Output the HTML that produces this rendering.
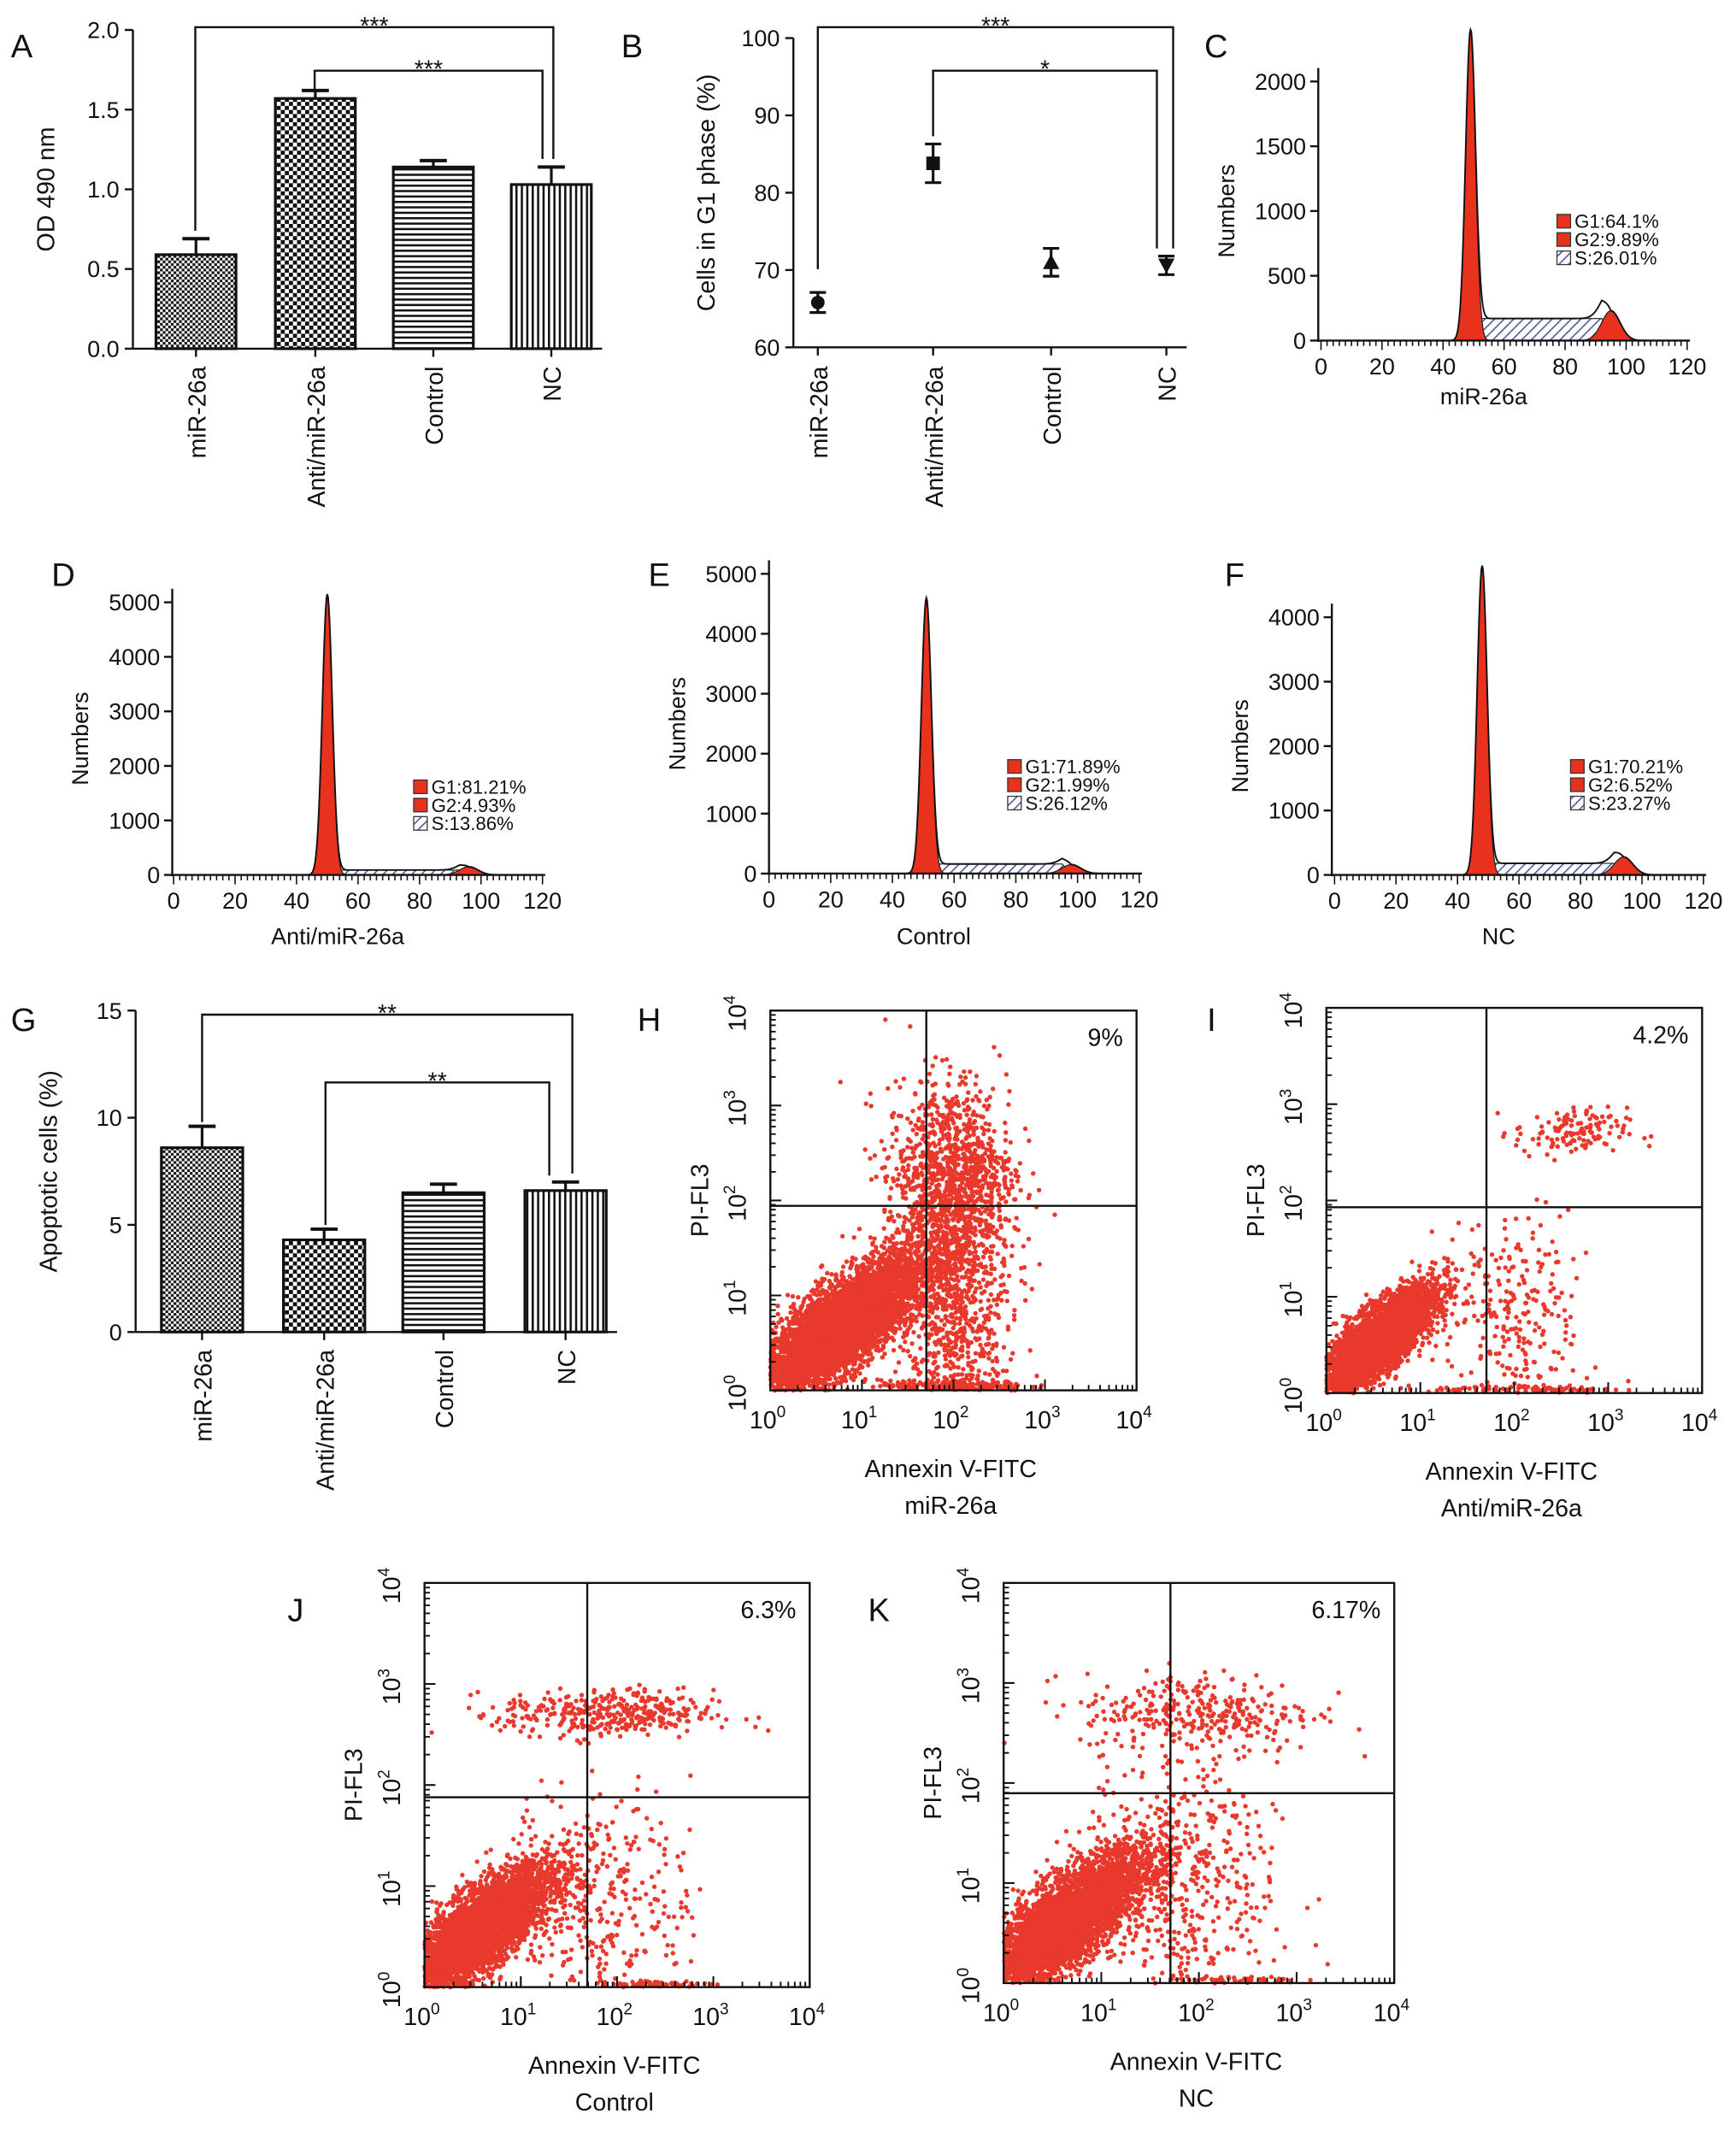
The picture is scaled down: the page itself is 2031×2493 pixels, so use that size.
<!DOCTYPE html>
<html><head><meta charset="utf-8"><style>
html,body{margin:0;padding:0;background:#fff}
svg{display:block;font-family:"Liberation Sans",sans-serif}
</style></head><body>
<svg id="fig" width="2031" height="2493" viewBox="0 0 1280 1571" xmlns="http://www.w3.org/2000/svg">
<defs>
<pattern id="chk" width="6" height="6" patternUnits="userSpaceOnUse"><rect width="6" height="6" fill="#fff"/><rect width="3" height="3" fill="#111"/><rect x="3" y="3" width="3" height="3" fill="#111"/></pattern>
<pattern id="chk2" width="4" height="4" patternUnits="userSpaceOnUse"><rect width="4" height="4" fill="#fff"/><rect width="2" height="2" fill="#111"/><rect x="2" y="2" width="2" height="2" fill="#111"/></pattern>
<pattern id="hz" width="4" height="4" patternUnits="userSpaceOnUse"><rect width="4" height="4" fill="#fff"/><rect width="4" height="1.6" fill="#111"/></pattern>
<pattern id="vt" width="4" height="4" patternUnits="userSpaceOnUse"><rect width="4" height="4" fill="#fff"/><rect width="1.6" height="4" fill="#111"/></pattern>
<pattern id="hatch" width="5" height="5" patternUnits="userSpaceOnUse" patternTransform="rotate(45)"><rect width="5" height="5" fill="#fff"/><rect width="1" height="5" fill="#4a5a9a"/></pattern>
</defs>
</svg>
<script>
// ---------- data ----------
const barCats = ["miR-26a","Anti/miR-26a","Control","NC"];
const odValues = [0.59,1.57,1.14,1.03];
const odErrors = [0.10,0.05,0.04,0.11];
const g1Values = [65.8,83.8,71.0,70.6];
const g1Errors = [1.3,2.5,1.8,1.2];
const apoValues = [8.6,4.3,6.5,6.6];
const apoErrors = [1.0,0.5,0.4,0.4];
const histNames = ["miR-26a","Anti/miR-26a","Control","NC"];
const histG1Pos = [49,50,51,48];
const histG1Height = [2400,5150,4600,4800];
const histG2Pos = [95,96,98,94];
const histG2Height = [230,150,150,280];
const histSLevel = [170,90,160,180];
const histLegendG1 = ["G1:64.1%","G1:81.21%","G1:71.89%","G1:70.21%"];
const histLegendG2 = ["G2:9.89%","G2:4.93%","G2:1.99%","G2:6.52%"];
const histLegendS = ["S:26.01%","S:13.86%","S:26.12%","S:23.27%"];
const flowNames = ["miR-26a","Anti/miR-26a","Control","NC"];
const flowPercent = ["9%","4.2%","6.3%","6.17%"];
// clusters: [count, cx(decades), cy, sx, sy, correlation]
const flowClusters = [
 [[5500,0.75,0.65,0.45,0.38,0.78],[1300,2.0,1.3,0.3,0.85,0.0],[700,1.95,2.3,0.35,0.45,0],[200,2.0,0.05,0.4,0.03,0]],
 [[4000,0.55,0.55,0.3,0.27,0.78],[250,2.0,0.8,0.4,0.5,0],[130,2.6,2.7,0.3,0.13,0],[100,2.1,0.04,0.5,0.02,0]],
 [[4500,0.55,0.55,0.38,0.32,0.78],[350,1.8,0.9,0.5,0.5,0],[380,1.9,2.7,0.55,0.12,0],[80,2.4,0.03,0.3,0.02,0]],
 [[4500,0.62,0.6,0.42,0.36,0.78],[500,1.8,1.0,0.5,0.6,0],[330,2.0,2.7,0.6,0.2,0],[60,2.3,0.03,0.4,0.02,0]]
];
// ---------- helpers ----------
const svg=document.getElementById('fig');const NS="http://www.w3.org/2000/svg";
function el(tag,attrs,parent,text){const e=document.createElementNS(NS,tag);for(const k in attrs)e.setAttribute(k,attrs[k]);if(text!==undefined)e.textContent=text;(parent||svg).appendChild(e);return e;}
function grp(name){const g=el('g',{});return g;}
function txt(g,x,y,s,size,anchor,rot,name){const t=el('text',{x:x,y:y,'font-size':size,'text-anchor':anchor||'middle',fill:'#111'},g,s);if(rot)t.setAttribute('transform',`rotate(${rot} ${x} ${y})`);return t;}
function line(g,x1,y1,x2,y2,w){return el('line',{x1,y1,x2,y2,stroke:'#111','stroke-width':w||1.5},g);}
function letter(s,x,y){const t=txt(svg,x,y,s,24,'start',0,'panel-label-'+s.toLowerCase());}
function bracket(g,x1,x2,y,b1,b2,stars){el('polyline',{points:`${x1},${b1} ${x1},${y} ${x2},${y} ${x2},${b2}`,fill:'none',stroke:'#111','stroke-width':1.5},g);const t=txt(g,(x1+x2)/2,y+5,stars,18,'middle',0,'significance-stars');}

// ---------- bar chart ----------
function barChart(name,ax,y0,yTop,vmax,step,title,vals,errs,xs,w,fills,brackets,lblY){
 const g=grp(name);const sy=v=>y0-(v/vmax)*(y0-yTop);
 line(g,ax,yTop,ax,y0);line(g,ax,y0,xs[3]+w+8,y0);
 for(let v=0;v<=vmax+1e-9;v+=step){line(g,ax-6,sy(v),ax,sy(v));txt(g,ax-10,sy(v)+6,(step<1?v.toFixed(1):v),17,'end',0,'y-tick-label');}
 txt(g,ax-58,(y0+yTop)/2,title,18,'middle',-90,'y-axis-title');
 vals.forEach((v,i)=>{const b=el('rect',{x:xs[i],y:sy(v),width:w,height:y0-sy(v),fill:fills[i],stroke:'#111','stroke-width':2},g);
  
  const cx=xs[i]+w/2;line(g,cx,sy(v),cx,sy(v+errs[i]),2);line(g,cx-10,sy(v+errs[i]),cx+10,sy(v+errs[i]),2.5);
  line(g,cx,y0,cx,y0+6);txt(g,cx+7,lblY,barCats[i],18,'end',-90,'x-category-label');});
 brackets.forEach(b=>bracket(g,b[0],b[1],b[2],sy(b[3]),sy(b[4]),b[5]));
}
barChart('od-bar-chart',98,257,22,2.0,0.5,'OD 490 nm',odValues,odErrors,[115,203,290,377],59,['url(#chk2)','url(#chk)','url(#hz)','url(#vt)'],
 [[144,408,20,odValues[0]+odErrors[0]+0.05,odValues[3]+odErrors[3]+0.05,'***'],[232,400,52,odValues[1]+odErrors[1]+0.01,odValues[3]+odErrors[3]+0.05,'***']],270);
letter('A',8,42);
barChart('apoptosis-bar-chart',100,982,745,15,5,'Apoptotic cells (%)',apoValues,apoErrors,[119,209,297,387],60,['url(#chk2)','url(#chk)','url(#hz)','url(#vt)'],
 [[149,422,748,apoValues[0]+apoErrors[0]+0.2,apoValues[3]+apoErrors[3]+0.4,'**'],[240,405,798,apoValues[1]+apoErrors[1]+0.2,apoValues[3]+apoErrors[3]+0.3,'**']],995);
letter('G',8,760);

// ---------- G1 scatter ----------
(function(){const g=grp('g1-phase-chart');const ax=585,y0=256,yT=28;const sy=v=>y0-(v-60)/40*(y0-yT);const xs=[603,688,775,860];
 line(g,ax,yT,ax,y0);line(g,ax,y0,875,y0);
 for(let v=60;v<=100;v+=10){line(g,ax-6,sy(v),ax,sy(v));txt(g,ax-10,sy(v)+6,v,17,'end',0,'y-tick-label');}
 txt(g,ax-58,142,'Cells in G1 phase (%)',18,'middle',-90,'y-axis-title');
 g1Values.forEach((v,i)=>{const x=xs[i],y=sy(v),e=g1Errors[i];line(g,x,sy(v-e),x,sy(v+e),2);line(g,x-6,sy(v+e),x+6,sy(v+e),2);line(g,x-6,sy(v-e),x+6,sy(v-e),2);
  let m;if(i==0)m=el('circle',{cx:x,cy:y,r:5,fill:'#111'},g);else if(i==1)m=el('rect',{x:x-5,y:y-5,width:10,height:10,fill:'#111'},g);
  else if(i==2)m=el('polygon',{points:`${x-6},${y+5} ${x+6},${y+5} ${x},${y-6}`,fill:'#111'},g);else m=el('polygon',{points:`${x-6},${y-5} ${x+6},${y-5} ${x},${y+6}`,fill:'#111'},g);
  
  line(g,x,y0,x,y0+6);txt(g,x+7,270,barCats[i],18,'end',-90,'x-category-label');});
 bracket(g,603,865,20,sy(g1Values[0]+g1Errors[0]+3),sy(g1Values[3]+g1Errors[3]+1),'***');
 bracket(g,688,853,52,sy(g1Values[1]+g1Errors[1]+1),sy(g1Values[3]+g1Errors[3]+1),'*');
})();
letter('B',458,42);

// ---------- histograms ----------
function hist(i,ax,y0,yTop,vmax,step,x0,x1,legX,legY,labY){
 const g=grp('histogram-'+histNames[i].toLowerCase().replace(/[^a-z0-9]+/g,'-'));
 const sy=v=>y0-v/vmax*(y0-yTop);const sx=v=>x0+v/120*(x1-x0);
 const mu=histG1Pos[i],H=histG1Height[i],m2=histG2Pos[i],H2=histG2Height[i],S=histSLevel[i];
 const g1=x=>H*Math.exp(-((x-mu)**2)/(2*1.6*1.6)), g2=x=>H2*Math.exp(-((x-m2)**2)/(2*3*3));
 const sf=x=>{if(x<mu||x>m2)return 0;const a=Math.min(1,(x-mu)/3),b=Math.min(1,(m2-x)/3);return S*a*b;};
 let pS=`M${sx(mu)},${y0}`,pT=`M${sx(0)},${y0}`,p1=`M${sx(mu-8)},${y0}`,p2=`M${sx(m2-12)},${y0}`;
 for(let x=0;x<=120;x+=0.25){pT+=` L${sx(x)},${sy(g1(x)+sf(x)+g2(x))}`;}
 for(let x=mu;x<=m2;x+=0.5)pS+=` L${sx(x)},${sy(sf(x))}`;pS+=` L${sx(m2)},${y0}Z`;
 for(let x=mu-8;x<=mu+8;x+=0.25)p1+=` L${sx(x)},${sy(g1(x))}`;p1+=` L${sx(mu+8)},${y0}Z`;
 for(let x=m2-12;x<=m2+12;x+=0.5)p2+=` L${sx(x)},${sy(g2(x))}`;p2+=` L${sx(m2+12)},${y0}Z`;
 el('path',{d:pS,fill:'url(#hatch)',stroke:'#333','stroke-width':0.8},g);
 el('path',{d:p1,fill:'#e8321e',stroke:'#222','stroke-width':0.8},g);
 el('path',{d:p2,fill:'#e8321e',stroke:'#222','stroke-width':0.8},g);
 el('path',{d:pT,fill:'none',stroke:'#111','stroke-width':1.2},g);
 line(g,ax,yTop-10,ax,y0+1);line(g,ax,y0,x1+2,y0);
 for(let v=0;v<=vmax;v+=step){line(g,ax-6,sy(v),ax,sy(v));txt(g,ax-9,sy(v)+6,v,17,'end',0,'y-tick-label');}
 for(let v=0;v<=120;v+=2){line(g,sx(v),y0,sx(v),y0+(v%20==0?7:4),1);}
 for(let v=0;v<=120;v+=20)txt(g,sx(v),y0+25,v,17,'middle',0,'x-tick-label');
 txt(g,ax-62,(y0+yTop)/2,'Numbers',17,'middle',-90,'y-axis-title');
 txt(g,(x0+x1)/2-15,labY,histNames[i],17,'middle',0,'x-axis-title');
 const L=[[histLegendG1[i],'#e8321e'],[histLegendG2[i],'#e8321e'],[histLegendS[i],'url(#hatch)']];
 L.forEach((l,k)=>{const r=el('rect',{x:legX,y:legY+k*13.5-10,width:10,height:10,fill:l[1],stroke:'#333','stroke-width':0.8},g);
  txt(g,legX+13,legY+k*13.5,l[0],14,'start',0,'legend-entry');});
}
hist(0,972,251,60,2000,500,974,1244,1148,168,298);letter('C',888,42);
hist(1,127,645,444,5000,1000,128,400,305,585,696);letter('D',38,432);
hist(2,567,644,423,5000,1000,567,840,743,570,696);letter('E',478,432);
hist(3,982,645,455,4000,1000,984,1256,1158,570,696);letter('F',903,432);

// ---------- flow plots ----------
let seed=12345;function rnd(){seed=(seed*1103515245+12345)%2147483648;return seed/2147483648;}
function gauss(){let u=rnd()||1e-6,v=rnd();return Math.sqrt(-2*Math.log(u))*Math.cos(2*Math.PI*v);}
function flow(i,L,R,T,B,qx,qy,lbl){
 const g=grp('flow-plot-'+flowNames[i].toLowerCase().replace(/[^a-z0-9]+/g,'-'));
 const sx=d=>L+d/4*(R-L),sy=d=>B-d/4*(B-T);
 const dots=el('g',{fill:'#e8392c'},g);
 flowClusters[i].forEach(c=>{for(let k=0;k<c[0];k++){const a=gauss(),b=gauss();let dx=c[1]+c[3]*a,dy=c[2]+c[4]*(c[5]*a+Math.sqrt(1-c[5]*c[5])*b);
  if(dx<0||dx>4||dy<0||dy>4)continue;el('circle',{cx:sx(dx).toFixed(1),cy:sy(dy).toFixed(1),r:1.7},dots);}});
 el('rect',{x:L,y:T,width:R-L,height:B-T,fill:'none',stroke:'#111','stroke-width':1.5},g);
 line(g,qx,T,qx,B,1.5);line(g,L,qy,R,qy,1.5);
 for(let d=0;d<4;d++)for(let k=1;k<=10;k++){const v=d+Math.log10(k),len=(k==1||k==10)?8:4;line(g,sx(v),B,sx(v),B-len,1.2);line(g,L,sy(v),L+len,sy(v),1.2);}
 for(let d=0;d<=4;d++){const t=el('text',{x:sx(d)-2,y:B+28,'font-size':18,'text-anchor':'middle',fill:'#111'},g);
  el('tspan',{},t,'10');el('tspan',{dy:-8,'font-size':12},t,String(d));
  const x=L-18,y=sy(d)+2;const u=el('text',{x:x,y:y,'font-size':18,'text-anchor':'middle',fill:'#111',transform:`rotate(-90 ${x} ${y})`},g);
  el('tspan',{},u,'10');el('tspan',{dy:-8,'font-size':12},u,String(d));}
 txt(g,R-10,T+26,flowPercent[i],18,'end',0,'quadrant-percent');
 txt(g,L-46,(T+B)/2,'PI-FL3',18,'middle',-90,'y-axis-title');
 txt(g,(L+R)/2-2,B+64,'Annexin V-FITC',18,'middle',0,'x-axis-title');
 txt(g,(L+R)/2-2,B+91,lbl,18,'middle',0,'sample-name');
}
flow(0,568,838,745,1025,683,889,'miR-26a');letter('H',470,760);
flow(1,978,1255,743,1027,1096,890,'Anti/miR-26a');letter('I',890,760);
flow(2,313,597,1167,1465,433,1325,'Control');letter('J',212,1195);
flow(3,740,1028,1167,1462,863,1322,'NC');letter('K',640,1195);
</script>
</body></html>
